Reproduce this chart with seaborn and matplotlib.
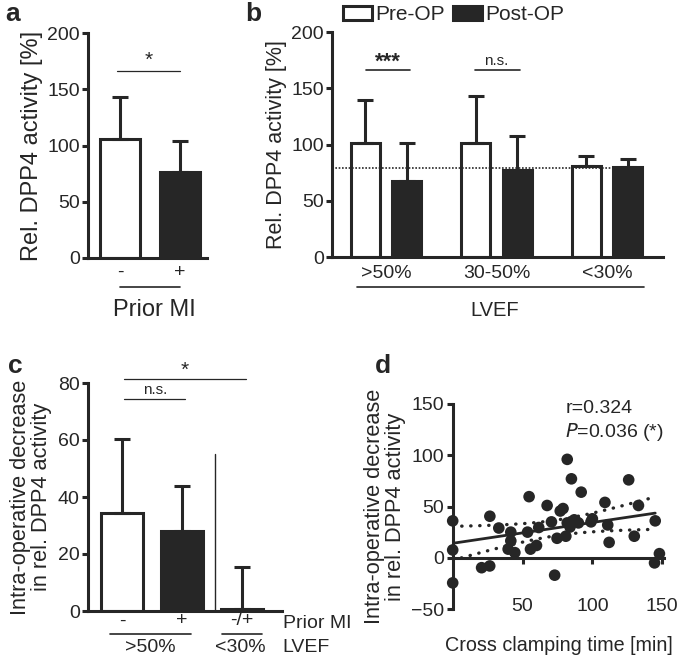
import numpy as np
import pandas as pd
import matplotlib
matplotlib.use('Agg')
import matplotlib.pyplot as plt
import seaborn as sns

# panel a - prior MI
mi_labels = ['-', '+']
a_mean = [105.5, 76.7]
a_err = [37.5, 27.6]

# panel b - LVEF groups, pre/post OP
lvef_groups = ['>50%', '30-50%', '<30%']
b_pre = [101.3, 101.3, 80.6]
b_pre_err = [38.7, 41.7, 9.4]
b_post = [68.0, 77.0, 80.0]
b_post_err = [33.0, 30.5, 7.0]
b_ref_level = 79.4

# panel c - intra-operative decrease
c_labels = ['-', '+', '-/+']
c_mean = [34.4, 27.9, 0.6]
c_err = [25.9, 16.0, 14.7]

# panel d - cross clamping time vs decrease
cc_time = [0, 0, 0, 20.7, 26.5, 26.6, 33, 41.6, 41.6, 39.7, 44.5, 53.6, 54.7, 55.7,
           60, 61.6, 67.6, 70.7, 73, 74.7, 77, 79, 81, 82, 82, 85, 84, 87, 90, 92,
           88, 99, 100, 109, 111, 112, 126, 130, 133, 145, 144.5, 148]
decrease = [36, 7.6, -24.5, -9.7, -8, 40.5, 29, 25, 16.5, 8.4, 5, 25, 59.6, 8.4,
            12, 29.5, 51, 35, -17, 19, 45.6, 48, 21, 34, 96, 77, 30, 37, 34, 64,
            36, 35, 38, 54, 32, 15, 76, 21, 51, 36, -5, 4]

dark = '#262626'
lw = 2.2

sns.set_theme(style='ticks')
plt.rcParams['font.family'] = ['Liberation Sans', 'DejaVu Sans']
plt.rcParams['text.color'] = dark
plt.rcParams['axes.labelcolor'] = dark
plt.rcParams['xtick.color'] = dark
plt.rcParams['ytick.color'] = dark

fig = plt.figure(figsize=(6.85, 6.6), dpi=100)
W, H = 685, 660


def px_axes(l, t, r, b):
    return fig.add_axes([l / W, 1 - b / H, (r - l) / W, (b - t) / H])


def style_axes(ax):
    sns.despine(ax=ax)
    for s in ['left', 'bottom']:
        ax.spines[s].set_linewidth(lw)
        ax.spines[s].set_color(dark)
    ax.tick_params(axis='y', length=4, width=lw, labelsize=14, pad=2)
    ax.tick_params(axis='x', length=0, labelsize=14)


def add_errbars(ax, bars, errs):
    xs = [p.get_x() + p.get_width() / 2 for p in bars]
    hs = [p.get_height() for p in bars]
    ax.errorbar(xs, hs, yerr=[np.zeros(len(errs)), errs], fmt='none', ecolor=dark,
                elinewidth=lw, capsize=5.5, capthick=lw, zorder=3)


# ---------- a ----------
ax_a = px_axes(88, 33, 207, 258)
sns.barplot(x=mi_labels, y=a_mean, hue=mi_labels, palette=['white', dark], legend=False,
            edgecolor=dark, linewidth=lw, width=0.667, ax=ax_a)
add_errbars(ax_a, ax_a.patches, a_err)
style_axes(ax_a)
ax_a.set_xlim(-0.533, 1.45)
ax_a.set_ylim(0, 200)
ax_a.set_yticks([0, 50, 100, 150, 200])
ax_a.set_ylabel('Rel. DPP4 activity [%]', fontsize=17, labelpad=3)
ax_a.tick_params(axis='x', pad=4)
ax_a.plot([-0.05, 1.0], [166, 166], color=dark, lw=0.9)
ax_a.text(0.47, 167, '*', ha='center', va='bottom', fontsize=15)
ta = ax_a.get_xaxis_transform()
ax_a.plot([0, 1.0], [-0.129, -0.129], color=dark, lw=1.2, transform=ta, clip_on=False)
ax_a.text(0.58, -0.231, 'Prior MI', ha='center', va='center', fontsize=17, transform=ta)

# ---------- b ----------
ax_b = px_axes(332, 32, 663, 257)
df_b = pd.DataFrame({
    'lvef': lvef_groups * 2,
    'phase': ['Pre-OP'] * 3 + ['Post-OP'] * 3,
    'val': b_pre + b_post,
})
sns.barplot(data=df_b, x='lvef', y='val', hue='phase', palette={'Pre-OP': 'white', 'Post-OP': dark},
            edgecolor=dark, linewidth=lw, width=0.75, gap=0.3, errorbar=None, ax=ax_b)
add_errbars(ax_b, ax_b.containers[0], b_pre_err)
add_errbars(ax_b, ax_b.containers[1], b_post_err)
style_axes(ax_b)
ax_b.set_xlim(-0.489, 2.507)
ax_b.set_ylim(0, 200)
ax_b.set_yticks([0, 50, 100, 150, 200])
ax_b.set_xlabel('')
ax_b.set_ylabel('Rel. DPP4 activity [%]', fontsize=15.5, labelpad=3)
ax_b.tick_params(axis='x', pad=6)
ax_b.plot([-0.489, 2.3], [b_ref_level, b_ref_level], color=dark, lw=1.2, ls=(0, (1, 1)), zorder=4)
ax_b.plot([-0.184, 0.217], [166, 166], color=dark, lw=1.2)
ax_b.text(0.016, 164, '***', ha='center', va='bottom', fontsize=16, fontweight='bold')
ax_b.plot([0.805, 1.213], [166, 166], color=dark, lw=1.2)
ax_b.text(1.0, 168, 'n.s.', ha='center', va='bottom', fontsize=11)
tb = ax_b.get_xaxis_transform()
ax_b.plot([-0.262, 2.335], [-0.133, -0.133], color=dark, lw=1.2, transform=tb, clip_on=False)
ax_b.text(0.986, -0.236, 'LVEF', ha='center', va='center', fontsize=14.5, transform=tb)
handles = [ax_b.containers[0][0], ax_b.containers[1][0]]
ax_b.legend(handles, ['Pre-OP', 'Post-OP'], loc='center left', bbox_to_anchor=(0.033, 1.076),
            ncol=2, frameon=False, fontsize=15, handlelength=1.4, handleheight=0.7,
            handletextpad=0.15, columnspacing=0.4, borderaxespad=0, borderpad=0)

# ---------- c ----------
ax_c = px_axes(88, 383, 282, 611)
sns.barplot(x=c_labels, y=c_mean, hue=c_labels, palette=['white', dark, 'white'], legend=False,
            edgecolor=dark, linewidth=lw, width=0.7, ax=ax_c)
add_errbars(ax_c, ax_c.patches, c_err)
style_axes(ax_c)
ax_c.set_xlim(-0.567, 2.667)
ax_c.set_ylim(0, 80)
ax_c.set_yticks([0, 20, 40, 60, 80])
ax_c.set_ylabel('Intra-operative decrease\nin rel. DPP4 activity', fontsize=15.7, labelpad=4,
                linespacing=1.0)
ax_c.tick_params(axis='x', pad=1)
ax_c.plot([1.55, 1.55], [0, 55], color=dark, lw=1.0)
ax_c.plot([0.033, 1.05], [74.4, 74.4], color=dark, lw=0.9)
ax_c.text(0.55, 75.2, 'n.s.', ha='center', va='bottom', fontsize=11)
ax_c.plot([0.033, 2.07], [81.5, 81.5], color=dark, lw=0.9, clip_on=False)
ax_c.text(1.05, 81.0, '*', ha='center', va='bottom', fontsize=15)
tc = ax_c.get_xaxis_transform()
ax_c.text(2.68, -0.053, 'Prior MI', ha='left', va='center', fontsize=14, transform=tc)
ax_c.plot([-0.2, 1.15], [-0.101, -0.101], color=dark, lw=1.2, transform=tc, clip_on=False)
ax_c.plot([1.667, 2.333], [-0.101, -0.101], color=dark, lw=1.2, transform=tc, clip_on=False)
ax_c.text(0.467, -0.162, '>50%', ha='center', va='center', fontsize=14, transform=tc)
ax_c.text(1.967, -0.162, '<30%', ha='center', va='center', fontsize=14, transform=tc)
ax_c.text(2.68, -0.162, 'LVEF', ha='left', va='center', fontsize=14, transform=tc)

# ---------- d ----------
ax_d = px_axes(452.7, 404, 665, 609)
x = np.array(cc_time)
y = np.array(decrease)
sns.scatterplot(x=x, y=y, color=dark, s=70, edgecolor='none', ax=ax_d, clip_on=False, zorder=3)
slope, icpt = np.polyfit(x, y, 1)
xs = np.linspace(0, 145, 100)
fit = icpt + slope * xs
n = len(x)
resid = y - (icpt + slope * x)
s_err = np.sqrt(np.sum(resid ** 2) / (n - 2))
half = 2.024 * s_err * np.sqrt(1 / n + (xs - x.mean()) ** 2 / np.sum((x - x.mean()) ** 2))
sns.lineplot(x=xs, y=fit, color=dark, lw=2, ax=ax_d)
ax_d.plot(xs, fit + half, color=dark, lw=2.4, ls=(0, (0.1, 2.6)), dash_capstyle='round')
ax_d.plot(xs, fit - half, color=dark, lw=2.4, ls=(0, (0.1, 2.6)), dash_capstyle='round')
sns.despine(ax=ax_d)
for s in ['left', 'bottom']:
    ax_d.spines[s].set_linewidth(lw)
    ax_d.spines[s].set_color(dark)
ax_d.spines['bottom'].set_position(('data', 0))
ax_d.spines['bottom'].set_bounds(0, 151)
ax_d.set_xlim(0, 152)
ax_d.set_ylim(-50, 150)
ax_d.set_yticks([-50, 0, 50, 100, 150])
ax_d.set_xticks([50, 100, 150])
ax_d.tick_params(axis='y', length=4, width=lw, labelsize=14, pad=2)
ax_d.tick_params(axis='x', length=4, width=lw, labelsize=14, pad=25)
ax_d.set_xlabel('Cross clamping time [min]', fontsize=14.2, labelpad=15)
ax_d.set_ylabel('Intra-operative decrease\nin rel. DPP4 activity', fontsize=15.7, labelpad=4,
                linespacing=1.0)
ax_d.text(0.53, 0.98, 'r=0.324', transform=ax_d.transAxes, fontsize=14, va='center')
ax_d.text(0.53, 0.865, r'$\it{P}$=0.036 (*)', transform=ax_d.transAxes, fontsize=14, va='center')

# panel letters
for lab, (px, py) in zip('abcd', [(5, 14), (245, 14), (8, 366), (375, 366)]):
    fig.text(px / W, 1 - py / H, lab, fontsize=19, fontweight='bold', va='center', ha='left')

fig.savefig('out.png', dpi=100)
